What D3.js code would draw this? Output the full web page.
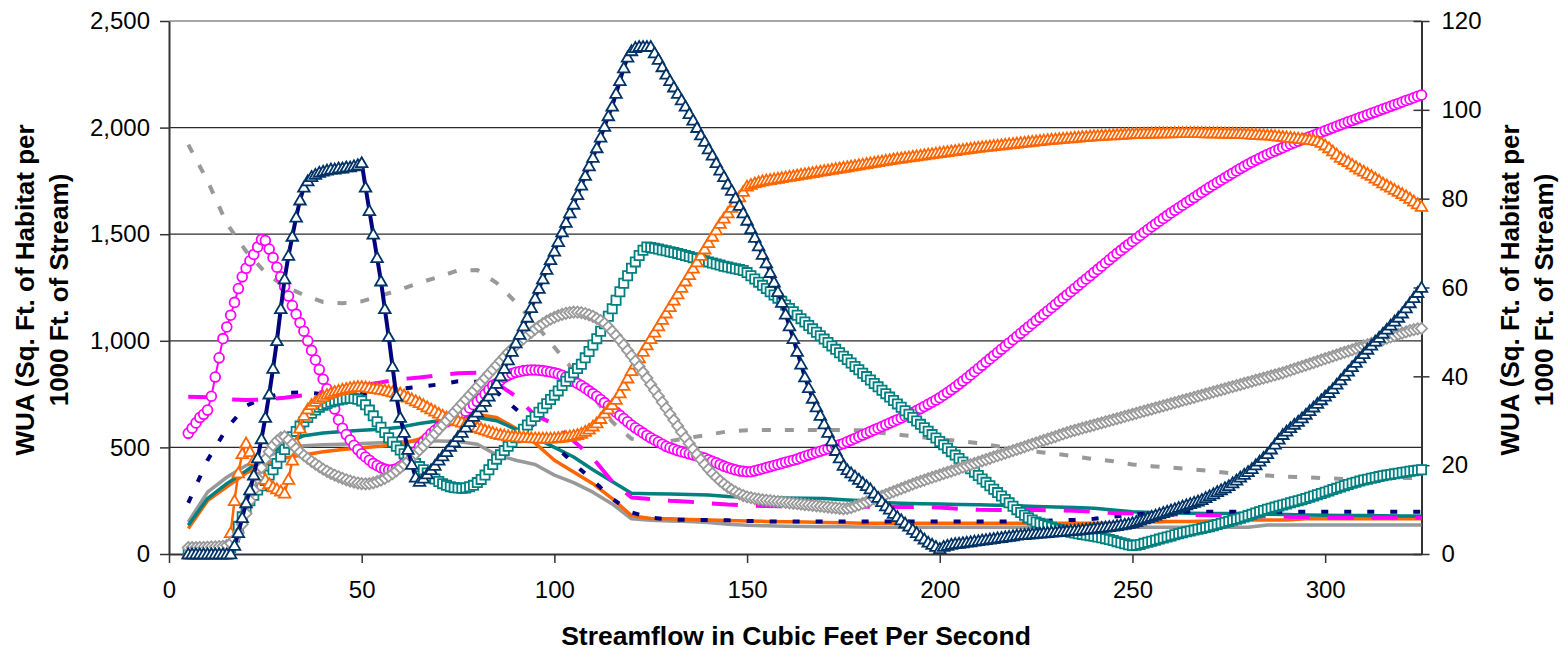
<!DOCTYPE html>
<html><head><meta charset="utf-8">
<script src="https://cdn.jsdelivr.net/npm/d3@7"></script>
<style>
body{margin:0;background:#fff;}
svg{display:block;font-family:Arial,"Liberation Sans",sans-serif;}
</style></head><body>
<svg id="chart" width="1564" height="651"></svg>
<script>
// ---------- DATA ----------
// Streamflow (cfs) for marker series, every 1 cfs
const flows = [
5,6,7,8,9,10,11,12,13,14,15,16,17,18,19,20,21,22,23,24,25,26,27,28,29,30,31,32,33,34,
35,36,37,38,39,40,41,42,43,44,45,46,47,48,49,50,51,52,53,54,55,56,57,58,59,60,61,62,63,64,
65,66,67,68,69,70,71,72,73,74,75,76,77,78,79,80,81,82,83,84,85,86,87,88,89,90,91,92,93,94,
95,96,97,98,99,100,101,102,103,104,105,106,107,108,109,110,111,112,113,114,115,116,117,118,119,120,121,122,123,124,
125,126,127,128,129,130,131,132,133,134,135,136,137,138,139,140,141,142,143,144,145,146,147,148,149,150,151,152,153,154,
155,156,157,158,159,160,161,162,163,164,165,166,167,168,169,170,171,172,173,174,175,176,177,178,179,180,181,182,183,184,
185,186,187,188,189,190,191,192,193,194,195,196,197,198,199,200,201,202,203,204,205,206,207,208,209,210,211,212,213,214,
215,216,217,218,219,220,221,222,223,224,225,226,227,228,229,230,231,232,233,234,235,236,237,238,239,240,241,242,243,244,
245,246,247,248,249,250,251,252,253,254,255,256,257,258,259,260,261,262,263,264,265,266,267,268,269,270,271,272,273,274,
275,276,277,278,279,280,281,282,283,284,285,286,287,288,289,290,291,292,293,294,295,296,297,298,299,300,301,302,303,304,
305,306,307,308,309,310,311,312,313,314,315,316,317,318,319,320,321,322,323,324,325];
// Streamflow (cfs) for line-only series, every 5 cfs
const flows5 = [5,10,15,20,25,30,35,40,45,50,55,60,65,70,75,80,85,90,95,100,105,110,115,120,125,130,135,140,145,150,
155,160,165,170,175,180,185,190,195,200,205,210,215,220,225,230,235,240,245,250,255,260,265,270,275,280,285,290,295,300,
305,310,315,320,325];

const navyTriangles = [
0,0,0,0,0,0,0,0,0,0, 0,0,40,100,170,240,300,370,450,540,
640,750,870,1000,1150,1290,1400,1490,1580,1660, 1720,1750,1770,1780,1790,1795,1800,1805,1805,1810,
1810,1815,1815,1820,1825,1835,1720,1610,1500,1390, 1280,1150,1020,880,740,640,570,490,420,360,
340,355,375,395,415,440,460,480,505,525, 550,570,595,620,645,665,690,715,740,770,
800,835,870,910,950,990,1030,1070,1110,1155, 1200,1245,1290,1335,1380,1420,1465,1510,1555,1600,
1640,1685,1730,1775,1820,1860,1905,1955,2005,2055, 2100,2160,2220,2280,2330,2360,2375,2380,2380,2380,
2380,2350,2320,2285,2250,2220,2190,2160,2130,2100, 2065,2035,2000,1965,1935,1900,1870,1835,1800,1770,
1735,1705,1670,1635,1600,1565,1525,1485,1445,1405, 1365,1320,1275,1230,1180,1125,1070,1010,950,890,
830,780,730,690,650,610,570,530,485,450, 415,395,380,365,350,335,320,305,285,265,
245,225,210,190,175,160,145,130,115,100, 85,70,55,45,35,25,35,40,45,48,
50,52,55,57,60,62,65,67,70,72, 75,77,80,82,85,88,90,91,93,94,
96,97,99,100,102,103,105,106,108,109, 111,112,114,116,118,120,122,124,126,128,
130,133,136,139,142,146,152,158,164,170, 176,182,188,194,200,206,212,218,224,230,
236,242,248,255,264,273,282,292,301,310, 320,333,346,360,373,386,400,418,435,452,
470,492,515,538,560,576,592,608,622,638, 655,672,689,706,723,740,757,775,796,816,
837,857,878,898,919,939,960,979,998,1016, 1035,1054,1073,1092,1110,1130,1154,1178,1202,1226,
1250];

const magentaCircles = [
566,590,615,640,655,675,740,830,920,1010, 1065,1120,1180,1245,1300,1340,1375,1405,1440,1475,
1470,1430,1390,1345,1300,1255,1210,1165,1125,1085, 1045,1000,955,910,865,820,775,730,680,630,
590,560,535,510,490,470,455,440,425,415, 405,398,394,395,400,410,425,440,460,480,
505,525,545,565,580,595,610,620,630,640, 650,660,670,685,700,715,730,750,770,790,
800,815,828,838,846,852,856,860,862,863, 863,862,860,857,854,850,845,838,830,820,
810,800,790,778,765,752,740,725,710,695, 680,665,650,635,620,605,592,580,568,556,
545,535,525,515,505,498,492,485,480,475, 470,465,460,455,450,442,435,428,420,412,
406,400,395,390,388,386,386,390,395,400, 405,410,415,420,425,430,435,440,445,452,
458,464,470,476,482,488,494,500,506,512, 518,526,534,542,550,558,566,574,582,590,
598,606,614,622,630,638,646,655,664,673, 682,692,702,712,722,733,745,757,770,783,
797,811,825,840,855,870,885,900,915,930, 945,960,975,990,1005,1020,1035,1050,1065,1080,
1095,1110,1125,1140,1155,1170,1185,1200,1215,1230, 1245,1260,1275,1290,1305,1320,1335,1350,1365,1380,
1395,1410,1424,1438,1452,1466,1480,1494,1508,1522, 1535,1548,1561,1574,1587,1600,1612,1624,1636,1648,
1660,1672,1684,1696,1708,1720,1731,1742,1753,1764, 1775,1786,1797,1808,1818,1828,1838,1847,1856,1865,
1874,1882,1890,1898,1906,1914,1922,1929,1936,1943, 1950,1957,1964,1971,1978,1985,1992,1999,2006,2013,
2020,2027,2033,2040,2047,2053,2060,2067,2073,2080, 2087,2093,2100,2107,2113,2120,2127,2133,2140,2147,
2153];

const orangeTriangles = [
0,0,0,0,0,0,0,0,0,0, 0,100,250,380,470,520,480,440,400,370,
350,330,315,305,295,285,350,440,520,590, 650,680,700,715,728,738,748,755,762,767,
772,776,780,783,785,785,783,780,777,775, 772,769,765,760,757,754,745,736,727,718,
710,700,690,680,670,660,650,642,636,630, 624,618,612,606,600,594,588,582,576,570,
564,560,557,554,552,550,549,548,547,545, 544,543,543,543,543,544,546,548,550,553,
556,560,566,575,585,600,615,635,660,680, 700,725,755,790,825,860,890,920,950,980,
1010,1040,1070,1100,1130,1160,1190,1220,1250,1280, 1310,1340,1370,1400,1430,1460,1490,1520,1550,1575,
1600,1625,1650,1675,1700,1725,1733,1740,1745,1750, 1753,1756,1759,1762,1765,1768,1771,1774,1777,1780,
1783,1786,1789,1792,1795,1798,1801,1804,1807,1810, 1813,1816,1819,1822,1825,1828,1831,1834,1837,1840,
1843,1846,1849,1852,1855,1857,1860,1862,1865,1867, 1870,1872,1875,1877,1880,1882,1885,1887,1890,1892,
1895,1897,1900,1902,1905,1907,1909,1911,1913,1915, 1917,1919,1921,1923,1925,1927,1929,1931,1933,1935,
1937,1939,1941,1943,1945,1946,1948,1949,1951,1952, 1954,1955,1957,1958,1960,1961,1962,1963,1964,1965,
1966,1967,1968,1969,1970,1971,1972,1972,1973,1973, 1974,1974,1975,1975,1975,1975,1976,1976,1976,1976,
1976,1976,1976,1976,1975,1975,1975,1975,1974,1974, 1973,1973,1972,1972,1971,1970,1969,1968,1967,1966,
1965,1964,1962,1960,1958,1956,1954,1952,1950,1948, 1946,1944,1942,1938,1930,1918,1905,1890,1875,1860,
1850,1840,1828,1816,1805,1795,1785,1775,1763,1752, 1740,1730,1720,1710,1700,1690,1680,1668,1655,1642,
1630];

const tealSquares = [
0,0,0,0,0,0,0,0,0,0, 0,30,80,130,175,215,250,275,300,320,
345,370,395,425,455,490,520,550,575,600, 620,640,660,675,688,698,706,713,718,722,
726,729,730,729,726,718,700,675,648,620, 595,570,545,525,505,488,470,455,440,425,
410,395,380,365,352,340,330,322,316,312, 309,308,310,315,322,335,350,370,395,420,
445,465,485,505,525,545,565,585,605,625, 645,665,685,705,725,745,765,790,810,830,
850,870,890,920,950,980,1010,1045,1080,1115, 1150,1190,1230,1270,1305,1340,1370,1400,1425,1440,
1438,1434,1430,1426,1422,1418,1414,1410,1405,1400, 1395,1390,1385,1380,1375,1370,1365,1360,1355,1350,
1346,1342,1338,1334,1330,1320,1305,1290,1275,1260, 1245,1230,1215,1200,1185,1168,1152,1136,1120,1104,
1088,1072,1056,1040,1024,1008,992,976,960,944, 928,912,896,880,864,848,832,816,800,784,
768,752,736,720,704,688,672,656,640,624, 608,592,576,560,544,528,512,496,480,464,
448,432,416,400,384,368,352,336,320,304, 288,272,256,240,224,208,195,182,170,160,
150,144,138,132,126,120,115,110,106,102, 98,95,92,89,86,83,80,76,72,68,
63,58,53,48,43,40,41,45,50,55, 60,65,70,75,80,85,90,95,100,104,
108,112,116,120,124,128,133,138,143,148, 153,158,163,168,174,180,186,192,198,204,
210,215,220,225,230,235,240,245,250,255, 260,266,272,278,284,290,296,302,308,314,
320,326,332,337,342,347,351,355,359,363, 367,370,373,376,379,382,385,388,391,393,
395];

const grayDiamonds = [
30,30,30,31,31,32,33,34,35,36, 40,50,70,100,140,190,250,300,355,405,
445,480,510,530,545,550,535,515,495,478, 462,448,435,422,410,398,388,378,370,362,
355,348,342,337,333,330,329,330,334,340, 347,355,365,377,390,405,420,435,452,470,
488,506,525,545,565,585,605,625,645,665, 685,705,725,745,765,785,805,825,845,865,
885,905,925,945,962,978,995,1010,1025,1040, 1055,1068,1080,1092,1102,1110,1118,1124,1129,1132,
1134,1134,1132,1128,1122,1115,1105,1095,1082,1065, 1045,1025,1003,980,955,930,905,880,852,825,
795,768,740,712,684,656,628,600,572,545, 518,492,467,443,420,398,378,360,343,328,
314,302,291,282,274,268,264,260,257,254, 252,250,248,246,244,242,240,238,236,234,
232,230,228,226,224,222,220,218,216,214, 212,214,218,224,230,237,244,251,258,265,
272,279,286,293,300,307,314,321,328,335, 341,347,353,359,365,371,377,383,389,395,
401,407,413,419,425,431,437,443,449,455, 461,467,473,479,485,491,497,503,509,515,
521,527,533,539,545,551,557,563,569,575, 580,585,590,595,600,605,610,615,620,625,
630,635,640,645,650,655,660,665,670,675, 680,685,690,695,700,705,710,715,720,725,
730,735,740,745,750,755,760,765,770,775, 780,785,790,795,800,805,810,815,820,825,
830,835,840,845,850,856,862,868,874,880, 886,892,898,904,910,916,922,928,934,940,
946,952,958,964,970,976,982,988,994,1000, 1006,1012,1018,1024,1030,1036,1042,1048,1052,1056,
1058];

const grayDashed = [1920,1750,1550,1420,1320,1255,1215,1182,1176,1185,1212,1240,1272,1300,1330,1332,1272,1180,1080,970,
860,740,620,540,530,530,545,560,575,580,582,582,582,582,582,580,568,558,548,538,
530,520,505,490,480,470,458,445,435,420,412,405,398,390,380,374,368,362,360,355,
352,354,356,357,357];
const navyDashed = [240,440,590,695,735,755,758,750,748,750,760,775,785,795,810,808,760,680,600,510,
425,345,260,195,170,162,160,160,158,155,153,152,152,152,152,152,152,152,152,152,
152,152,152,153,155,157,160,165,175,185,192,198,198,198,198,198,198,198,198,198,
198,198,198,198,198];
const magentaDashed = [738,735,725,722,725,733,745,760,775,790,805,820,828,838,848,850,800,740,650,610,
530,450,340,265,258,250,245,238,232,228,225,224,223,222,222,222,222,221,220,218,
212,207,206,206,206,205,203,198,192,190,188,186,184,182,180,178,177,175,172,170,
170,170,170,170,170];
const tealLine = [135,260,330,390,455,515,555,568,575,580,585,595,612,625,640,640,625,585,545,500,
455,395,340,285,283,281,279,277,270,266,264,263,262,260,255,250,242,238,236,234,
232,231,229,226,223,220,218,215,206,198,195,192,191,190,190,190,187,185,183,182,
181,180,179,178,178];
const orangeLine = [120,250,315,380,420,450,465,480,490,498,505,515,540,600,640,655,640,590,520,440,
385,330,260,180,167,165,162,159,157,155,153,151,150,148,146,144,144,144,144,144,
144,144,144,144,144,144,144,144,144,146,150,152,152,155,157,159,159,160,165,165,
165,165,165,165,165];
const grayLine = [150,290,360,415,455,490,508,512,515,518,522,525,530,530,528,515,465,440,420,370,
335,290,235,165,158,155,152,148,140,135,132,130,129,128,128,127,126,126,125,125,
125,125,125,125,125,125,125,125,125,125,125,125,125,125,125,125,136,136,136,136,
136,136,136,136,136];

const xTicks = [0,50,100,150,200,250,300];
const leftTicks = [0,500,1000,1500,2000,2500];
const rightTicks = [0,20,40,60,80,100,120];
const yTitleLines = ["WUA (Sq. Ft. of Habitat per", "1000 Ft. of Stream)"];
const xTitle = "Streamflow in Cubic Feet Per Second";

// ---------- SCALES ----------
const P = {l:169, r:1421.5, t:21, b:554};
const x = d3.scaleLinear().domain([0,325]).range([P.l,P.r]);
const yL = d3.scaleLinear().domain([0,2500]).range([P.b,P.t]);
const yR = d3.scaleLinear().domain([0,120]).range([P.b,P.t]);
const svg = d3.select('#chart');
const FONT = 'Arial, "Liberation Sans", sans-serif';

// gridlines
svg.append('g').selectAll('line').data(leftTicks.filter(d=>d>0)).join('line')
  .attr('x1',P.l).attr('x2',P.r).attr('y1',d=>yL(d)).attr('y2',d=>yL(d))
  .attr('stroke',d=>d===2500?'#8a8a8a':'#2a2a2a').attr('stroke-width',d=>d===2500?1.5:1.2);

// axes
function styleAxis(g){
  g.attr('font-family',FONT).attr('font-size',24);
  g.select('.domain').attr('stroke','#333').attr('stroke-width',2);
  g.selectAll('.tick line').attr('stroke','#333').attr('stroke-width',1.5);
  g.selectAll('.tick text').attr('fill','#000');
}
const gL = svg.append('g').attr('transform',`translate(${P.l},0)`)
  .call(d3.axisLeft(yL).tickValues(leftTicks).tickFormat(d3.format(',')).tickSizeInner(9).tickSizeOuter(0).tickPadding(10));
styleAxis(gL);
const gR = svg.append('g').attr('transform',`translate(${P.r},0)`)
  .call(d3.axisRight(yR).tickValues(rightTicks).tickSizeInner(8).tickSizeOuter(0).tickPadding(12));
styleAxis(gR);
gR.selectAll('.tick line').attr('x1',-8);
const gB = svg.append('g').attr('transform',`translate(0,${P.b})`)
  .call(d3.axisBottom(x).tickValues(xTicks).tickSizeInner(9).tickSizeOuter(0));
styleAxis(gB);
gB.selectAll('.tick text').attr('y',44).attr('dy',null);

// titles
function yTitle(xs){
  yTitleLines.forEach((t,i)=>{
    svg.append('text').attr('transform',`translate(${xs[i]},290) rotate(-90)`)
      .attr('text-anchor','middle').attr('font-family',FONT).attr('font-weight','bold')
      .attr('font-size',26).text(t);
  });
}
yTitle([34,68]);
yTitle([1519,1553]);
svg.append('text').attr('x',796).attr('y',645).attr('text-anchor','middle')
  .attr('font-family',FONT).attr('font-weight','bold').attr('font-size',26.5).text(xTitle);

// ---------- LINE SERIES ----------
const lineGen = d3.line().x(d=>x(d[0])).y(d=>yL(d[1]));
function lineSeries(vals, color, width, dash){
  svg.append('path').datum(flows5.map((f,i)=>[f,vals[i]]))
    .attr('d',lineGen).attr('fill','none').attr('stroke',color).attr('stroke-width',width)
    .attr('stroke-dasharray',dash||null).attr('stroke-linejoin','round');
}
lineSeries(grayLine,'#999999',3.5);
lineSeries(orangeLine,'#FF6600',3.5);
lineSeries(tealLine,'#008080',3.5);
lineSeries(navyDashed,'#000080',4,'7,16');
lineSeries(magentaDashed,'#FF00FF',4,'26,18');
lineSeries(grayDashed,'#999999',4,'9,14');

// ---------- MARKER SERIES ----------
const symTri = {draw(c,s){c.moveTo(0,-5.6);c.lineTo(5.8,4.4);c.lineTo(-5.8,4.4);c.closePath();}};
const symCirc = {draw(c,s){c.moveTo(4.9,0);c.arc(0,0,4.9,0,2*Math.PI);}};
const symSq = {draw(c,s){c.rect(-4.6,-4.6,9.2,9.2);}};
const symDia = {draw(c,s){c.moveTo(0,-5.6);c.lineTo(5.6,0);c.lineTo(0,5.6);c.lineTo(-5.6,0);c.closePath();}};

function markerSeries(vals, lineColor, lineWidth, mColor, sym){
  const data = flows.map((f,i)=>[f,vals[i]]);
  const g = svg.append('g');
  g.append('path').datum(data).attr('d',lineGen).attr('fill','none')
    .attr('stroke',lineColor).attr('stroke-width',lineWidth).attr('stroke-linejoin','round');
  g.selectAll('path.m').data(data).join('path').attr('class','m')
    .attr('transform',d=>`translate(${x(d[0])},${yL(d[1])})`)
    .attr('d',d3.symbol().type(sym)())
    .attr('fill','#fff').attr('stroke',mColor).attr('stroke-width',1.8);
}
markerSeries(magentaCircles,'#FF00FF',2,'#FF00FF',symCirc);
markerSeries(tealSquares,'#008080',2.5,'#008080',symSq);
markerSeries(orangeTriangles,'#FF6600',2.5,'#FF6600',symTri);
markerSeries(grayDiamonds,'#999999',2.5,'#999999',symDia);
markerSeries(navyTriangles,'#000080',4,'#003366',symTri);
</script>
</body></html>
